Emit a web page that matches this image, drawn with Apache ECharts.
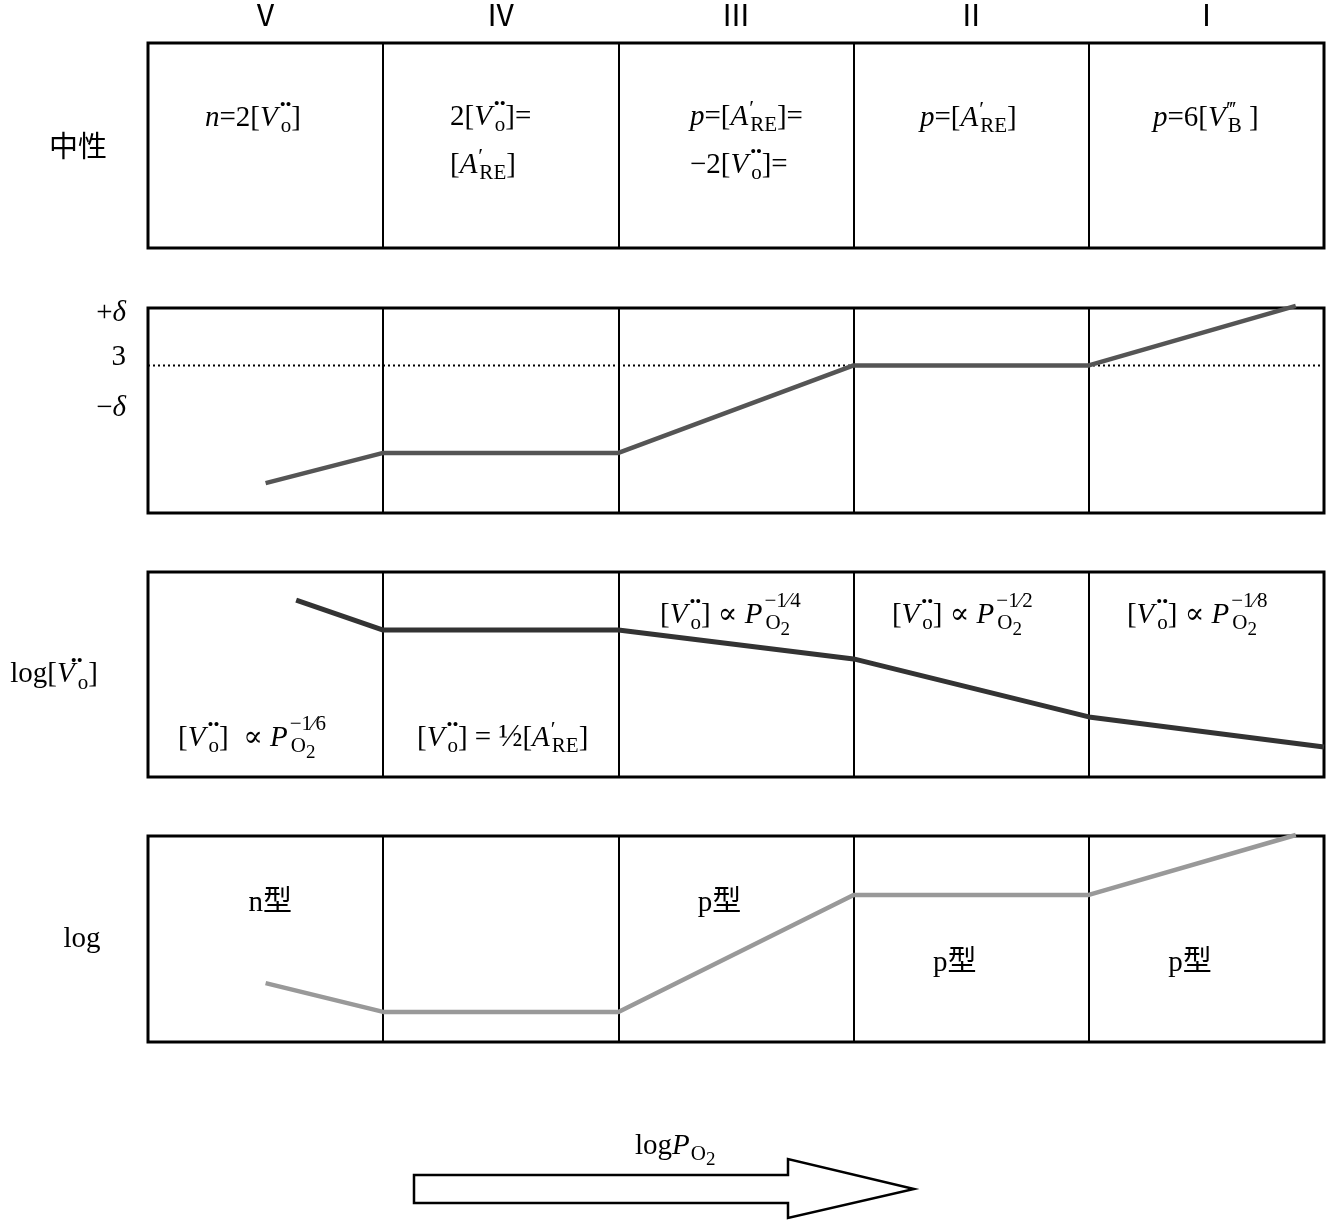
<!DOCTYPE html>
<html>
<head>
<meta charset="utf-8">
<script src="https://cdn.jsdelivr.net/npm/echarts@6/dist/echarts.min.js"></script>
<style>
	html, body { margin: 0; padding: 0; background: #fff; }
	#chart { width: 1326px; height: 1220px; }
</style>
</head>
<body>
<div id="chart"></div>
<script>
// 区域编号（横轴 logPO2 从左到右）
var phaseNames = ['Ⅴ', 'Ⅳ', 'Ⅲ', 'Ⅱ', 'Ⅰ'];
var phaseCenters = [0.5, 1.5, 2.5, 3.5, 4.5];

// 非化学计量 δ 曲线
var deltaX = [0.5, 1, 2, 3, 4, 4.88];
var deltaY = [14.6, 29.3, 29.3, 72, 72, 101];
var stoichLevel = 72; // “3” 虚线
var deltaTickVals = [51, 76, 97.6];
var deltaTickText = ['{n|−}{i|δ}', '{n|3}', '{n|+}{i|δ}'];

// log[Vo••] 曲线
var vacX = [0.63, 1, 2, 3, 4, 5];
var vacY = [86.3, 71.7, 71.7, 57.6, 29.3, 14.6];

// 电导 log 曲线
var condX = [0.5, 1, 2, 3, 4, 4.88];
var condY = [28.6, 14.6, 14.6, 71.4, 71.4, 100.5];

// 中性条件
var neutralText = [
	'{i|n}{n|=2[}{i|V}{dt|••}{sb|o}{n|]}',
	'{n|2[}{i|V}{dt|••}{sb|o}{n|]=}\n{n|[}{i|A}{pr|′}{sb|RE}{n|]}',
	'{i|p}{n|=[}{i|A}{pr|′}{sb|RE}{n|]=}\n{n|−2[}{i|V}{dt|••}{sb|o}{n|]=}',
	'{i|p}{n|=[}{i|A}{pr|′}{sb|RE}{n|]}',
	'{i|p}{n|=6[}{i|V}{pr|‴}{sb|B}{n| ]}'
];
var neutralPos = [[0.242, 63.4], [1.284, 52], [2.304, 52], [3.282, 63.4], [4.273, 63.4]];

// 空位浓度关系
var vacText = [
	'{n|[}{i|V}{dt|••}{sb|o}{n|]  ∝ }{i|P}{sp|−1⁄6}{sb|O}{s2|2}',
	'{n|[}{i|V}{dt|••}{sb|o}{n|] = }{fr|½}{n|[}{i|A}{pr|′}{sb|RE}{n|]}',
	'{n|[}{i|V}{dt|••}{sb|o}{n|] ∝ }{i|P}{sp|−1⁄4}{sb|O}{s2|2}',
	'{n|[}{i|V}{dt|••}{sb|o}{n|] ∝ }{i|P}{sp|−1⁄2}{sb|O}{s2|2}',
	'{n|[}{i|V}{dt|••}{sb|o}{n|] ∝ }{i|P}{sp|−1⁄8}{sb|O}{s2|2}'
];
var vacPos = [[0.128, 19], [1.144, 19], [2.177, 79], [3.163, 79], [4.162, 79]];

// 导电类型
var typeText = ['n型', 'p型', 'p型', 'p型'];
var typePos = [[0.52, 67.5], [2.43, 67.5], [3.43, 38.3], [4.43, 38.3]];
</script>
<script>
(function() {

	var SERIF = "'Liberation Serif', 'DejaVu Serif', 'Noto Sans CJK SC', serif";

	// 公共富文本样式（上下标）
	var RICH = {
		n: { fontFamily: SERIF, fontSize: 29, lineHeight: 48, color: '#000' },
		i: { fontFamily: SERIF, fontSize: 29, lineHeight: 48, fontStyle: 'italic', color: '#000' },
		fr: { fontFamily: SERIF, fontSize: 32, lineHeight: 48, color: '#000' },
		dt: { fontFamily: SERIF, fontSize: 17, width: 0, verticalAlign: 'top', padding: [3, 0, 0, 2], color: '#000' },
		pr: { fontFamily: SERIF, fontSize: 22, width: 0, verticalAlign: 'top', padding: [5, 0, 0, 1], color: '#000' },
		sb: { fontFamily: SERIF, fontSize: 21, verticalAlign: 'bottom', padding: [0, 0, 5, 1], color: '#000' },
		sp: { fontFamily: SERIF, fontSize: 21, width: 0, verticalAlign: 'top', padding: [0, 0, 0, 2], color: '#000' },
		s2: { fontFamily: SERIF, fontSize: 19, verticalAlign: 'bottom', color: '#000' }
	};

	var chart = echarts.init(document.getElementById('chart'));

	var gridTops = [43, 308, 572, 836];
	var gridH = [205, 205, 205, 206];

	var grids = gridTops.map(function(t, k) {
		return {
			left: 148, top: t, width: 1176, height: gridH[k],
			show: true, borderColor: '#000', borderWidth: 3, backgroundColor: 'transparent'
		};
	});

	var xAxes = grids.map(function(g, k) {
		var ax = {
			type: 'value', gridIndex: k, min: 0, max: 5, interval: 1,
			axisLine: { show: false }, axisTick: { show: false },
			axisLabel: { show: false },
			splitLine: { show: true, lineStyle: { color: '#000', width: 2 } }
		};
		if (k === 0) {
			ax.position = 'top';
			ax.axisLabel = {
				show: true, customValues: phaseCenters, margin: 13,
				fontFamily: "'Noto Sans CJK SC', serif", fontSize: 30, color: '#000',
				formatter: function(v) {
					return phaseNames[phaseCenters.indexOf(v)];
				}
			};
		}
		return ax;
	});

	var yNames = [
		'中性',
		'',
		'{n|log[}{i|V}{dt|••}{sb|o}{n|]}',
		'{n|log}'
	];
	var yGaps = [70, 0, 94, 66];

	var yAxes = grids.map(function(g, k) {
		var ax = {
			type: 'value', gridIndex: k, min: 0, max: 100,
			axisLine: { show: false }, axisTick: { show: false },
			axisLabel: { show: false }, splitLine: { show: false },
			name: yNames[k], nameLocation: 'middle', nameRotate: 0, nameGap: yGaps[k],
			nameTextStyle: {
				align: 'center', verticalAlign: 'middle', color: '#000',
				fontFamily: "'Noto Sans CJK SC', serif", fontSize: 29, rich: RICH
			}
		};
		if (k === 1) {
			ax.axisLabel = {
				show: true, customValues: deltaTickVals, margin: 22, rich: RICH,
				formatter: function(v) {
					return deltaTickText[deltaTickVals.indexOf(v)];
				}
			};
		}
		return ax;
	});

	function zip(xs, ys) {
		return xs.map(function(x, i) { return [x, ys[i]]; });
	}

	// 文字注释 series
	function noteSeries(k, pos, texts, position, rich) {
		return {
			type: 'scatter', xAxisIndex: k, yAxisIndex: k, symbolSize: 0, silent: true,
			data: pos,
			itemStyle: { color: '#000', opacity: 1 },
			label: {
				show: true, position: position, distance: 0, rich: rich,
				fontFamily: "'Liberation Serif', 'Noto Sans CJK SC', serif", fontSize: 29,
				color: '#000', textBorderWidth: 0,
				formatter: function(p) { return texts[p.dataIndex]; }
			}
		};
	}

	var option = {
		backgroundColor: '#fff',
		animation: false,
		grid: grids,
		xAxis: xAxes,
		yAxis: yAxes,
		series: [
			noteSeries(0, neutralPos, neutralText, 'right', RICH),
			{
				type: 'line', xAxisIndex: 1, yAxisIndex: 1, symbol: 'none', silent: true, z: 1,
				data: [[0, stoichLevel], [5, stoichLevel]],
				lineStyle: { color: '#000', width: 2, type: [2, 3] }
			},
			{
				type: 'line', xAxisIndex: 1, yAxisIndex: 1, symbol: 'none', clip: false, z: 3,
				data: zip(deltaX, deltaY),
				lineStyle: { color: '#555', width: 4.5 }
			},
			{
				type: 'line', xAxisIndex: 2, yAxisIndex: 2, symbol: 'none', clip: false, z: 3,
				data: zip(vacX, vacY),
				lineStyle: { color: '#333', width: 5 }
			},
			noteSeries(2, vacPos, vacText, 'right', RICH),
			{
				type: 'line', xAxisIndex: 3, yAxisIndex: 3, symbol: 'none', clip: false, z: 3,
				data: zip(condX, condY),
				lineStyle: { color: '#999', width: 4.5 }
			},
			noteSeries(3, typePos, typeText, 'inside', null)
		],
		graphic: [
			{
				type: 'polygon', silent: true,
				shape: { points: [[414, 1175], [788, 1175], [788, 1159], [914, 1189], [788, 1218], [788, 1203], [414, 1203]] },
				style: { fill: '#fff', stroke: '#000', lineWidth: 2.5 }
			},
			{
				type: 'text', x: 635, y: 1146, silent: true,
				style: {
					text: '{n|log}{i|P}{sb|O}{s2|2}', rich: RICH,
					align: 'left', verticalAlign: 'middle'
				}
			}
		]
	};

	chart.setOption(option);
})();
</script>
</body>
</html>
